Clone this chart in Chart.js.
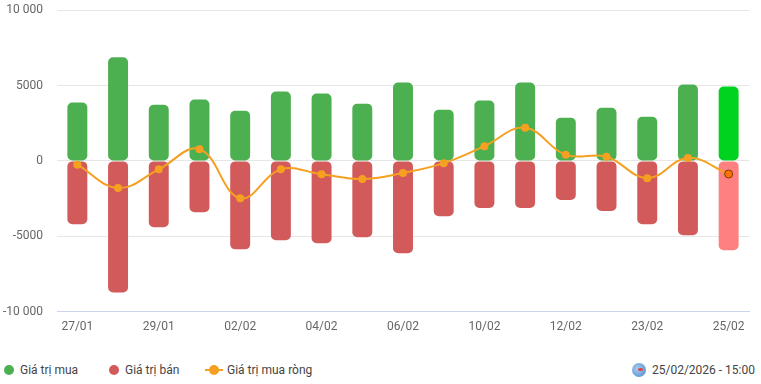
<!DOCTYPE html>
<html>
<head>
<meta charset="utf-8">
<script src="https://cdn.jsdelivr.net/npm/chart.js@4/dist/chart.umd.min.js"></script>
<style>
  body { margin: 0; background: #fff; font-family: Roboto, Arial, sans-serif; overflow: hidden; }
  #wrap { position: relative; width: 761px; height: 351px; margin-top: -11px; }
  .foot { position: relative; width: 761px; height: 44px; font-size: 12px; color: #444; }
  .item { position: absolute; top: 30px; transform: translateY(-50%); display: flex; align-items: center; white-space: nowrap; }
  .dot { width: 10px; height: 10px; border-radius: 50%; display: inline-block; margin-right: 6px; }
  .lineMark { position: relative; width: 18px; height: 10px; margin-right: 4px; }
  .lineMark:before { content: ''; position: absolute; left: 0; right: 0; top: 4px; height: 2px; background: #f5a020; }
  .lineMark:after { content: ''; position: absolute; left: 4px; top: 0; width: 10px; height: 10px; border-radius: 50%; background: #f5a020; }
  .globe { width: 14px; height: 14px; flex: none; border-radius: 50%; background: radial-gradient(circle at 40% 40%, #a9cdf0, #4a86c8); margin-right: 6px; position: relative; }
  .globe:after { content: ''; position: absolute; left: 6px; top: 5px; width: 5px; height: 3px; background: #e04a4a; border-radius: 2px; }
</style>
</head>
<body>
<div id="wrap"><canvas id="flowChart"></canvas></div>
<div class="foot">
  <div class="item" style="left:4px"><span class="dot" style="background:#4caf50"></span>Giá trị mua</div>
  <div class="item" style="left:109px"><span class="dot" style="background:#d35a5a"></span>Giá trị bán</div>
  <div class="item" style="left:205px"><span class="lineMark"></span>Giá trị mua ròng</div>
  <div class="item" style="right:6px"><span class="globe"></span>25/02/2026 - 15:00</div>
</div>
<script>
const labels = ['27/01', '28/01', '29/01', '30/01', '02/02', '03/02', '04/02', '05/02', '06/02',
  '09/02', '10/02', '11/02', '12/02', '13/02', '23/02', '24/02', '25/02'];
const buyValues = [3870, 6870, 3730, 4070, 3330, 4600, 4470, 3800, 5200,
  3400, 4000, 5200, 2870, 3530, 2930, 5070, 4930];
const sellValues = [-4200, -8730, -4400, -3400, -5870, -5270, -5470, -5070, -6130,
  -3670, -3130, -3130, -2600, -3330, -4200, -4930, -5930];
const netValues = [-250, -1800, -560, 780, -2480, -560, -880, -1200, -800,
  -150, 980, 2200, 400, 280, -1150, 200, -870];
const yTicks = [-10000, -5000, 0, 5000, 10000];

const last = labels.length - 1;
const pick = (a, b) => labels.map((_, i) => i === last ? b : a);

function fmt(v) {
  if (Math.abs(v) >= 10000) {
    return (v < 0 ? '-' : '') + String(Math.abs(v)).replace(/\B(?=(\d{3})+(?!\d))/g, ' ');
  }
  return String(v);
}

const ctx = document.getElementById('flowChart').getContext('2d');
new Chart(ctx, {
  data: {
    labels: labels,
    datasets: [
      {
        type: 'line',
        label: 'Giá trị mua ròng',
        data: netValues,
        borderColor: '#f5a020',
        borderWidth: 2,
        tension: 0.4,
        pointRadius: 4,
        pointBackgroundColor: pick('#f5a020', '#ff7300'),
        pointBorderColor: pick('#f5a020', '#7a3a10'),
        pointBorderWidth: pick(0, 1),
        order: 0
      },
      {
        type: 'bar',
        label: 'Giá trị mua',
        data: buyValues,
        backgroundColor: pick('#4caf50', '#00d31f'),
        borderRadius: 5,
        borderSkipped: false,
        grouped: false,
        barPercentage: 0.49,
        categoryPercentage: 1,
        order: 1
      },
      {
        type: 'bar',
        label: 'Giá trị bán',
        data: sellValues,
        backgroundColor: pick('#d35a5a', '#ff8080'),
        borderRadius: 5,
        borderSkipped: false,
        grouped: false,
        barPercentage: 0.49,
        categoryPercentage: 1,
        order: 1
      }
    ]
  },
  options: {
    responsive: true,
    maintainAspectRatio: false,
    animation: false,
    layout: { padding: { top: 0, right: 12, left: 0, bottom: -2 } },
    plugins: {
      legend: { display: false },
      tooltip: { enabled: false }
    },
    scales: {
      x: {
        grid: { display: false, drawTicks: false },
        border: { color: '#ccd6eb', width: 1 },
        ticks: {
          autoSkip: false,
          maxRotation: 0,
          padding: 8,
          color: '#666',
          font: { family: 'Roboto', size: 12 },
          callback: (v, i) => i % 2 === 0 ? labels[i] : ''
        }
      },
      y: {
        min: -10000,
        max: 10000,
        afterBuildTicks: axis => { axis.ticks = yTicks.map(v => ({ value: v })); },
        afterFit: axis => { axis.width = 57; },
        grid: { color: '#e6e6e6', drawTicks: false },
        border: { display: false },
        ticks: {
          padding: 14,
          color: '#666',
          font: { family: 'Roboto', size: 12 },
          callback: v => fmt(v)
        }
      }
    }
  }
});
</script>
</body>
</html>
